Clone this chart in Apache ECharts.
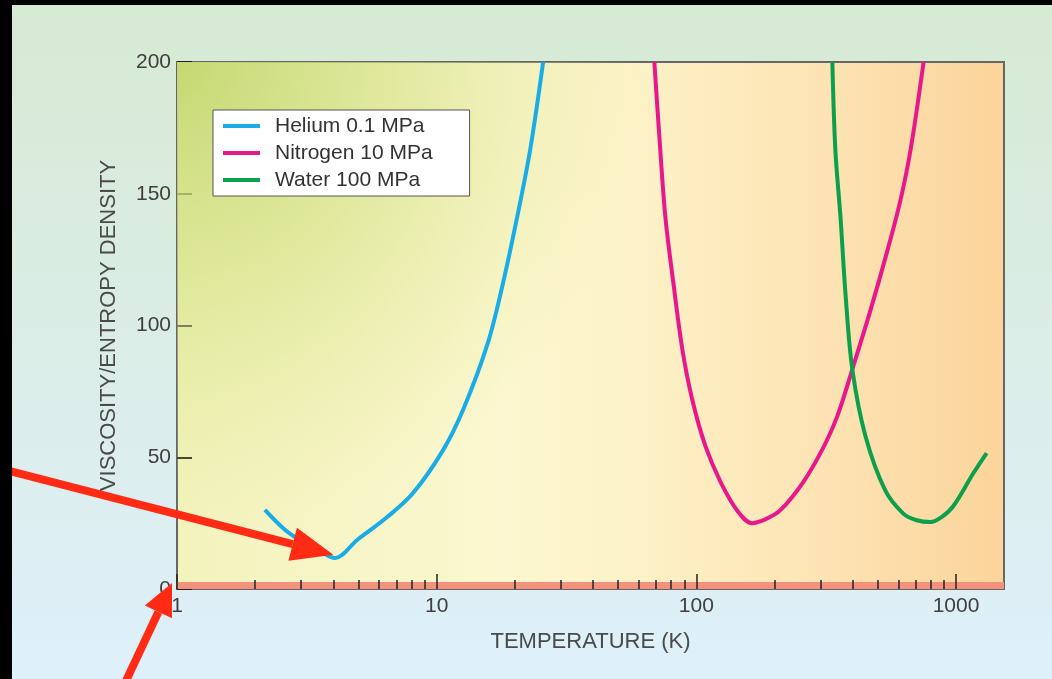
<!DOCTYPE html>
<html>
<head>
<meta charset="utf-8">
<script src="https://cdn.jsdelivr.net/npm/echarts@6/dist/echarts.min.js"></script>
<style>
  html, body { margin: 0; padding: 0; background: #000; }
  #chart { position: absolute; left: 12px; top: 5px; width: 1040px; height: 674px; }
</style>
</head>
<body>
<div id="chart"></div>
<script>
// values: temperature (K) vs viscosity/entropy density
const heliumT = [2.18, 2.61, 3.06, 3.55, 4.06, 4.94, 6.45, 8.11, 10.6, 12.7, 15.7, 18.0, 20.4, 22.9, 25.7]
const heliumV = [30, 22.4, 17.8, 14.4, 11.8, 18.6, 27.3, 36.4, 52.8, 68.5, 93, 116, 141, 166.6, 200]

const nitrogenT = [68.9, 72.7, 76, 81.6, 88.4, 96.5, 108.3, 124, 145, 164, 185, 211, 258, 306, 349, 399, 469, 545, 611, 668, 750]
const nitrogenV = [200, 166, 141, 116, 90.7, 71.7, 54.3, 40.6, 29.2, 25, 26.5, 30, 40.6, 53.1, 65.6, 83.5, 106, 128.7, 147.6, 166.6, 200]

const waterT = [334, 343, 359, 376, 399, 448, 535, 628, 700, 797, 880, 977, 1167, 1312]
const waterV = [200, 166.6, 141, 110.8, 83.1, 58, 37.2, 28.5, 26.2, 25.4, 27.3, 31.5, 44, 51.6]

const seriesNames = ['Helium 0.1 MPa', 'Nitrogen 10 MPa', 'Water 100 MPa']
const seriesColors = ['#1aace6', '#e8188c', '#0c9f4c']

const xMinorTicks = [2, 3, 4, 5, 6, 7, 8, 9, 20, 30, 40, 50, 60, 70, 80, 90, 200, 300, 400, 500, 600, 700, 800, 900]
const xMin = 1
const xMax = 1530
const yMin = 0
const yMax = 200
const yStep = 50

const font = 'Liberation Sans, Arial, sans-serif'
const zip = (xs, ys) => xs.map((x, i) => [x, ys[i]])

const chart = echarts.init(document.getElementById('chart'))

const lineSeries = (i, data) => ({
  name: seriesNames[i],
  type: 'line',
  data: data,
  color: seriesColors[i],
  showSymbol: false,
  smooth: 0.35,
  lineStyle: { width: 4 }
})

const helium = lineSeries(0, zip(heliumT, heliumV))
helium.markArea = {
  silent: true,
  data: [
    // greenish tint in the upper left of the plot
    [{
      yAxis: yMin,
      itemStyle: {
        color: {
          type: 'radial', x: 0, y: 0, r: 0.9,
          colorStops: [
            { offset: 0, color: 'rgba(196,216,114,1)' },
            { offset: 0.45, color: 'rgba(210,225,132,0.62)' },
            { offset: 1, color: 'rgba(225,232,150,0)' }
          ]
        }
      }
    }, { yAxis: yMax }],
    // salmon strip along the bottom
    [{ yAxis: 0, itemStyle: { color: '#f3917d' } }, { yAxis: 2.7 }]
  ]
}

const option = {
  animation: false,
  backgroundColor: {
    type: 'linear', x: 0, y: 0, x2: 0, y2: 1,
    colorStops: [{ offset: 0, color: '#d7ead3' }, { offset: 1, color: '#def0fa' }]
  },
  grid: {
    left: 165, top: 57, right: 48, bottom: 90,
    show: true,
    borderColor: '#666',
    borderWidth: 2,
    backgroundColor: {
      type: 'linear', x: 0, y: 0, x2: 1, y2: 0,
      colorStops: [
        { offset: 0, color: '#f3f3bd' },
        { offset: 0.4, color: '#fcf7d0' },
        { offset: 0.55, color: '#fdf2c8' },
        { offset: 0.8, color: '#fde2b2' },
        { offset: 1, color: '#fbd49a' }
      ]
    }
  },
  legend: {
    orient: 'vertical',
    left: 201,
    top: 105,
    data: seriesNames,
    icon: 'rect',
    itemWidth: 37,
    itemHeight: 4,
    itemGap: 5,
    backgroundColor: '#fff',
    borderColor: '#555',
    borderWidth: 1,
    borderRadius: 0,
    padding: [5, 37, 5, 10],
    textStyle: { color: '#333', fontSize: 21, fontFamily: font, lineHeight: 22, padding: [0, 0, 0, 10] }
  },
  xAxis: [
    {
      type: 'log',
      logBase: 10,
      min: xMin,
      max: xMax,
      z: 3,
      axisLine: { show: false },
      axisTick: { inside: true, length: 15, lineStyle: { color: '#222', width: 1.5 } },
      axisLabel: {
        color: '#404040', fontSize: 21, margin: 7, fontFamily: font,
        showMaxLabel: false,
        formatter: v => String(v)
      },
      splitLine: { show: false },
      name: 'TEMPERATURE (K)',
      nameLocation: 'middle',
      nameGap: 42,
      nameTextStyle: { color: '#4a4a4a', fontSize: 22, fontFamily: font }
    },
    {
      type: 'log',
      logBase: 10,
      min: xMin,
      max: xMax,
      position: 'bottom',
      z: 3,
      axisLine: { show: false },
      axisLabel: { show: false },
      axisTick: { inside: true, length: 9, customValues: xMinorTicks, lineStyle: { color: '#222', width: 1.5 } },
      splitLine: { show: false }
    }
  ],
  yAxis: {
    type: 'value',
    min: yMin,
    max: yMax,
    interval: yStep,
    axisLine: { show: false },
    axisTick: { show: true, inside: true, length: 15, lineStyle: { color: '#222', width: 2 } },
    axisLabel: { color: '#404040', fontSize: 21, margin: 6, fontFamily: font },
    splitLine: { show: false },
    name: 'VISCOSITY/ENTROPY DENSITY',
    nameLocation: 'middle',
    nameGap: 57,
    nameTextStyle: { color: '#4a4a4a', fontSize: 22, fontFamily: font }
  },
  series: [
    helium,
    lineSeries(1, zip(nitrogenT, nitrogenV)),
    lineSeries(2, zip(waterT, waterV))
  ]
}

chart.setOption(option)

// red annotation arrows
function arrow(tip, tail, headLen, headHalf) {
  const dx = tip[0] - tail[0]
  const dy = tip[1] - tail[1]
  const len = Math.sqrt(dx * dx + dy * dy)
  const ux = dx / len, uy = dy / len
  const bx = tip[0] - ux * headLen, by = tip[1] - uy * headLen
  return [
    {
      type: 'polyline', z: 100, silent: true,
      shape: { points: [tail, [bx, by]] },
      style: { stroke: '#ff2b14', lineWidth: 8, fill: null }
    },
    {
      type: 'polygon', z: 100, silent: true,
      shape: { points: [tip, [bx - uy * headHalf, by + ux * headHalf], [bx + uy * headHalf, by - ux * headHalf]] },
      style: { fill: '#ff2b14' }
    }
  ]
}

const tip1 = chart.convertToPixel({ seriesIndex: 0 }, [4.0, 13])
const tip2 = chart.convertToPixel({ seriesIndex: 0 }, [1, 0])
tip2[0] -= 5
tip2[1] -= 6

chart.setOption({
  graphic: [].concat(
    arrow(tip1, [tip1[0] - 325, tip1[1] - 84], 42, 17),
    arrow(tip2, [tip2[0] - 47, tip2[1] + 100], 32, 15)
  )
})

window.addEventListener('resize', () => chart.resize())
</script>
</body>
</html>
